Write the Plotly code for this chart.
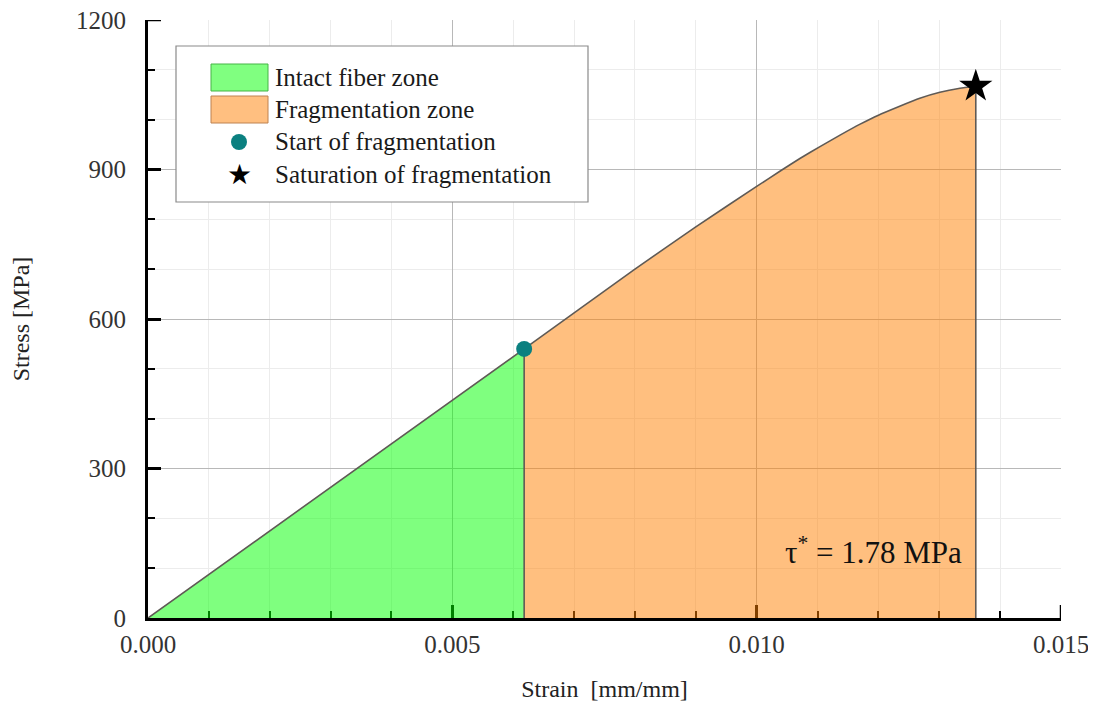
import plotly.graph_objects as go

# ---------------- data ----------------
strain_intact = [0.0, 0.00618]
stress_intact = [0.0, 540.0]

strain_frag = [0.00618, 0.0080, 0.0090, 0.0100, 0.0104, 0.01071, 0.01104, 0.01137,
               0.0117, 0.0120, 0.01235, 0.01268, 0.01301, 0.01334, 0.0136]
stress_frag = [540, 700, 785, 866, 898, 922, 946, 969,
               991, 1009, 1027, 1043, 1055, 1063, 1067]

start_strain = [0.00618]
start_stress = [540]
sat_strain = [0.0136]
sat_stress = [1067]

x_tickvals = [0.000, 0.005, 0.010, 0.015]
x_ticktext = ["0.000", "0.005", "0.010", "0.015"]
y_tickvals = [0, 300, 600, 900, 1200]
y_ticktext = ["0", "300", "600", "900", "1200"]

legend_labels = ["Intact fiber zone", "Fragmentation zone",
                 "Start of fragmentation", "Saturation of fragmentation"]
tau_text = "τ<sup>*</sup> = 1.78 MPa"

FONT = "Liberation Serif"
GREEN = "rgba(0,255,0,0.5)"
ORANGE = "rgba(255,128,0,0.5)"
TEAL = "#0b8080"
EDGE = "#5f5a55"

fig = go.Figure()

# intact zone fill
fig.add_trace(go.Scatter(
    x=strain_intact + [strain_intact[-1]],
    y=stress_intact + [0],
    fill="toself", fillcolor=GREEN, mode="lines",
    line=dict(width=0), name=legend_labels[0],
    showlegend=False, hoverinfo="skip"))

# fragmentation zone fill
fig.add_trace(go.Scatter(
    x=[strain_frag[0]] + strain_frag + [strain_frag[-1]],
    y=[0] + stress_frag + [0],
    fill="toself", fillcolor=ORANGE, mode="lines",
    line=dict(width=0), name=legend_labels[1],
    showlegend=False, hoverinfo="skip"))

# stress-strain curve
fig.add_trace(go.Scatter(
    x=strain_intact + strain_frag[1:],
    y=stress_intact + stress_frag[1:],
    mode="lines", line=dict(color=EDGE, width=1.6, shape="spline", smoothing=0.4),
    showlegend=False, hoverinfo="skip"))

# zone boundaries (vertical edges)
fig.add_trace(go.Scatter(
    x=[start_strain[0], start_strain[0]], y=[0, start_stress[0]],
    mode="lines", line=dict(color=EDGE, width=1.6),
    showlegend=False, hoverinfo="skip"))
fig.add_trace(go.Scatter(
    x=[sat_strain[0], sat_strain[0]], y=[0, sat_stress[0]],
    mode="lines", line=dict(color=EDGE, width=1.6),
    showlegend=False, hoverinfo="skip"))

fig.add_trace(go.Scatter(
    x=start_strain, y=start_stress, mode="markers",
    marker=dict(color=TEAL, size=16, line=dict(width=0)),
    name=legend_labels[2], showlegend=False))

fig.add_trace(go.Scatter(
    x=sat_strain, y=sat_stress, mode="markers",
    marker=dict(color="black", size=25, symbol="star", line=dict(width=0)),
    name=legend_labels[3], showlegend=False))

# ---------------- layout geometry (page pixels) ----------------
PAGE_OFF = 8            # browser body margin
PL, PR, PT, PB = 148, 1061, 20, 618
W, H = PR - PL, PB - PT
FIG_W, FIG_H = 1096, 704
TICKLEN = 13


def px(x):
    return (x - PL) / W


def py(y):
    return (PB - y) / H


shapes = [
    # end-of-axis major ticks (plotly drops inside ticks at the range ends)
    dict(type="line", xref="paper", yref="y", layer="below",
         x0=0, x1=TICKLEN / W, y0=y_tickvals[-1], y1=y_tickvals[-1],
         line=dict(color="black", width=2.5)),
    dict(type="line", xref="x", yref="paper", layer="below",
         x0=x_tickvals[-1], x1=x_tickvals[-1], y0=0, y1=TICKLEN / H,
         line=dict(color="black", width=2.5)),
    # legend
    dict(type="rect", xref="paper", yref="paper", layer="above",
         x0=px(176), x1=px(588), y0=py(202), y1=py(46),
         fillcolor="white", line=dict(color="#8a8a8a", width=1.2)),
    dict(type="rect", xref="paper", yref="paper", layer="above",
         x0=px(211), x1=px(268), y0=py(91), y1=py(64),
         fillcolor="rgb(128,255,128)", line=dict(color="rgb(70,180,70)", width=1)),
    dict(type="rect", xref="paper", yref="paper", layer="above",
         x0=px(211), x1=px(268), y0=py(123), y1=py(96),
         fillcolor="rgb(255,191,128)", line=dict(color="rgb(190,130,80)", width=1)),
    dict(type="circle", xref="paper", yref="paper", layer="above",
         x0=px(231), x1=px(247), y0=py(150), y1=py(134),
         fillcolor=TEAL, line=dict(width=0)),
]

rows_y = [77.5, 109.5, 141.7, 174.3]
annotations = []
for lab, ry in zip(legend_labels, rows_y):
    annotations.append(dict(
        xref="paper", yref="paper", x=px(273), y=py(ry),
        xanchor="left", yanchor="middle", text=lab, showarrow=False,
        font=dict(family=FONT, size=25, color="#1a1a1a")))
annotations.append(dict(
    xref="paper", yref="paper", x=px(239), y=py(174.3),
    xanchor="center", yanchor="middle", text="★", showarrow=False,
    font=dict(family="DejaVu Sans", size=28, color="black")))

annotations.append(dict(
    x=0.01340, y=136, xref="x", yref="y", xanchor="right", yanchor="middle",
    text=tau_text, showarrow=False,
    font=dict(family=FONT, size=31, color="#111")))

axis_common = dict(
    showline=True, linecolor="black", linewidth=3, mirror=False,
    ticks="inside", ticklen=TICKLEN, tickwidth=2.5, tickcolor="black",
    showgrid=True, gridcolor="#b8b8b8", gridwidth=1, zeroline=False,
    tickfont=dict(family=FONT, size=25, color="#333"),
    layer="below traces", tickmode="array", ticklabeloverflow="allow",
)

fig.update_layout(
    width=FIG_W, height=FIG_H,
    margin=dict(l=PL - PAGE_OFF, r=FIG_W - (PR - PAGE_OFF),
                t=PT - PAGE_OFF, b=FIG_H - (PB - PAGE_OFF), autoexpand=False),
    paper_bgcolor="white", plot_bgcolor="white",
    showlegend=False,
    shapes=shapes, annotations=annotations,
    xaxis=dict(
        axis_common, range=[0, 0.015], tickvals=x_tickvals, ticktext=x_ticktext,
        ticklabelstandoff=2,
        minor=dict(tickmode="linear", tick0=0, dtick=0.001, ticks="inside",
                   ticklen=7, tickwidth=2, tickcolor="black",
                   showgrid=True, gridcolor="#ececec", gridwidth=1),
        title=dict(text="Strain\u00a0\u00a0[mm/mm]", standoff=24,
                   font=dict(family=FONT, size=24, color="#222")),
    ),
    yaxis=dict(
        axis_common, range=[0, 1200], tickvals=y_tickvals, ticktext=y_ticktext,
        ticklabelstandoff=14,
        minor=dict(tickmode="linear", tick0=0, dtick=100, ticks="inside",
                   ticklen=7, tickwidth=2, tickcolor="black",
                   showgrid=True, gridcolor="#ececec", gridwidth=1),
        title=dict(text="Stress [MPa]", standoff=44,
                   font=dict(family=FONT, size=24, color="#222")),
    ),
)

fig.write_html("out.html")
